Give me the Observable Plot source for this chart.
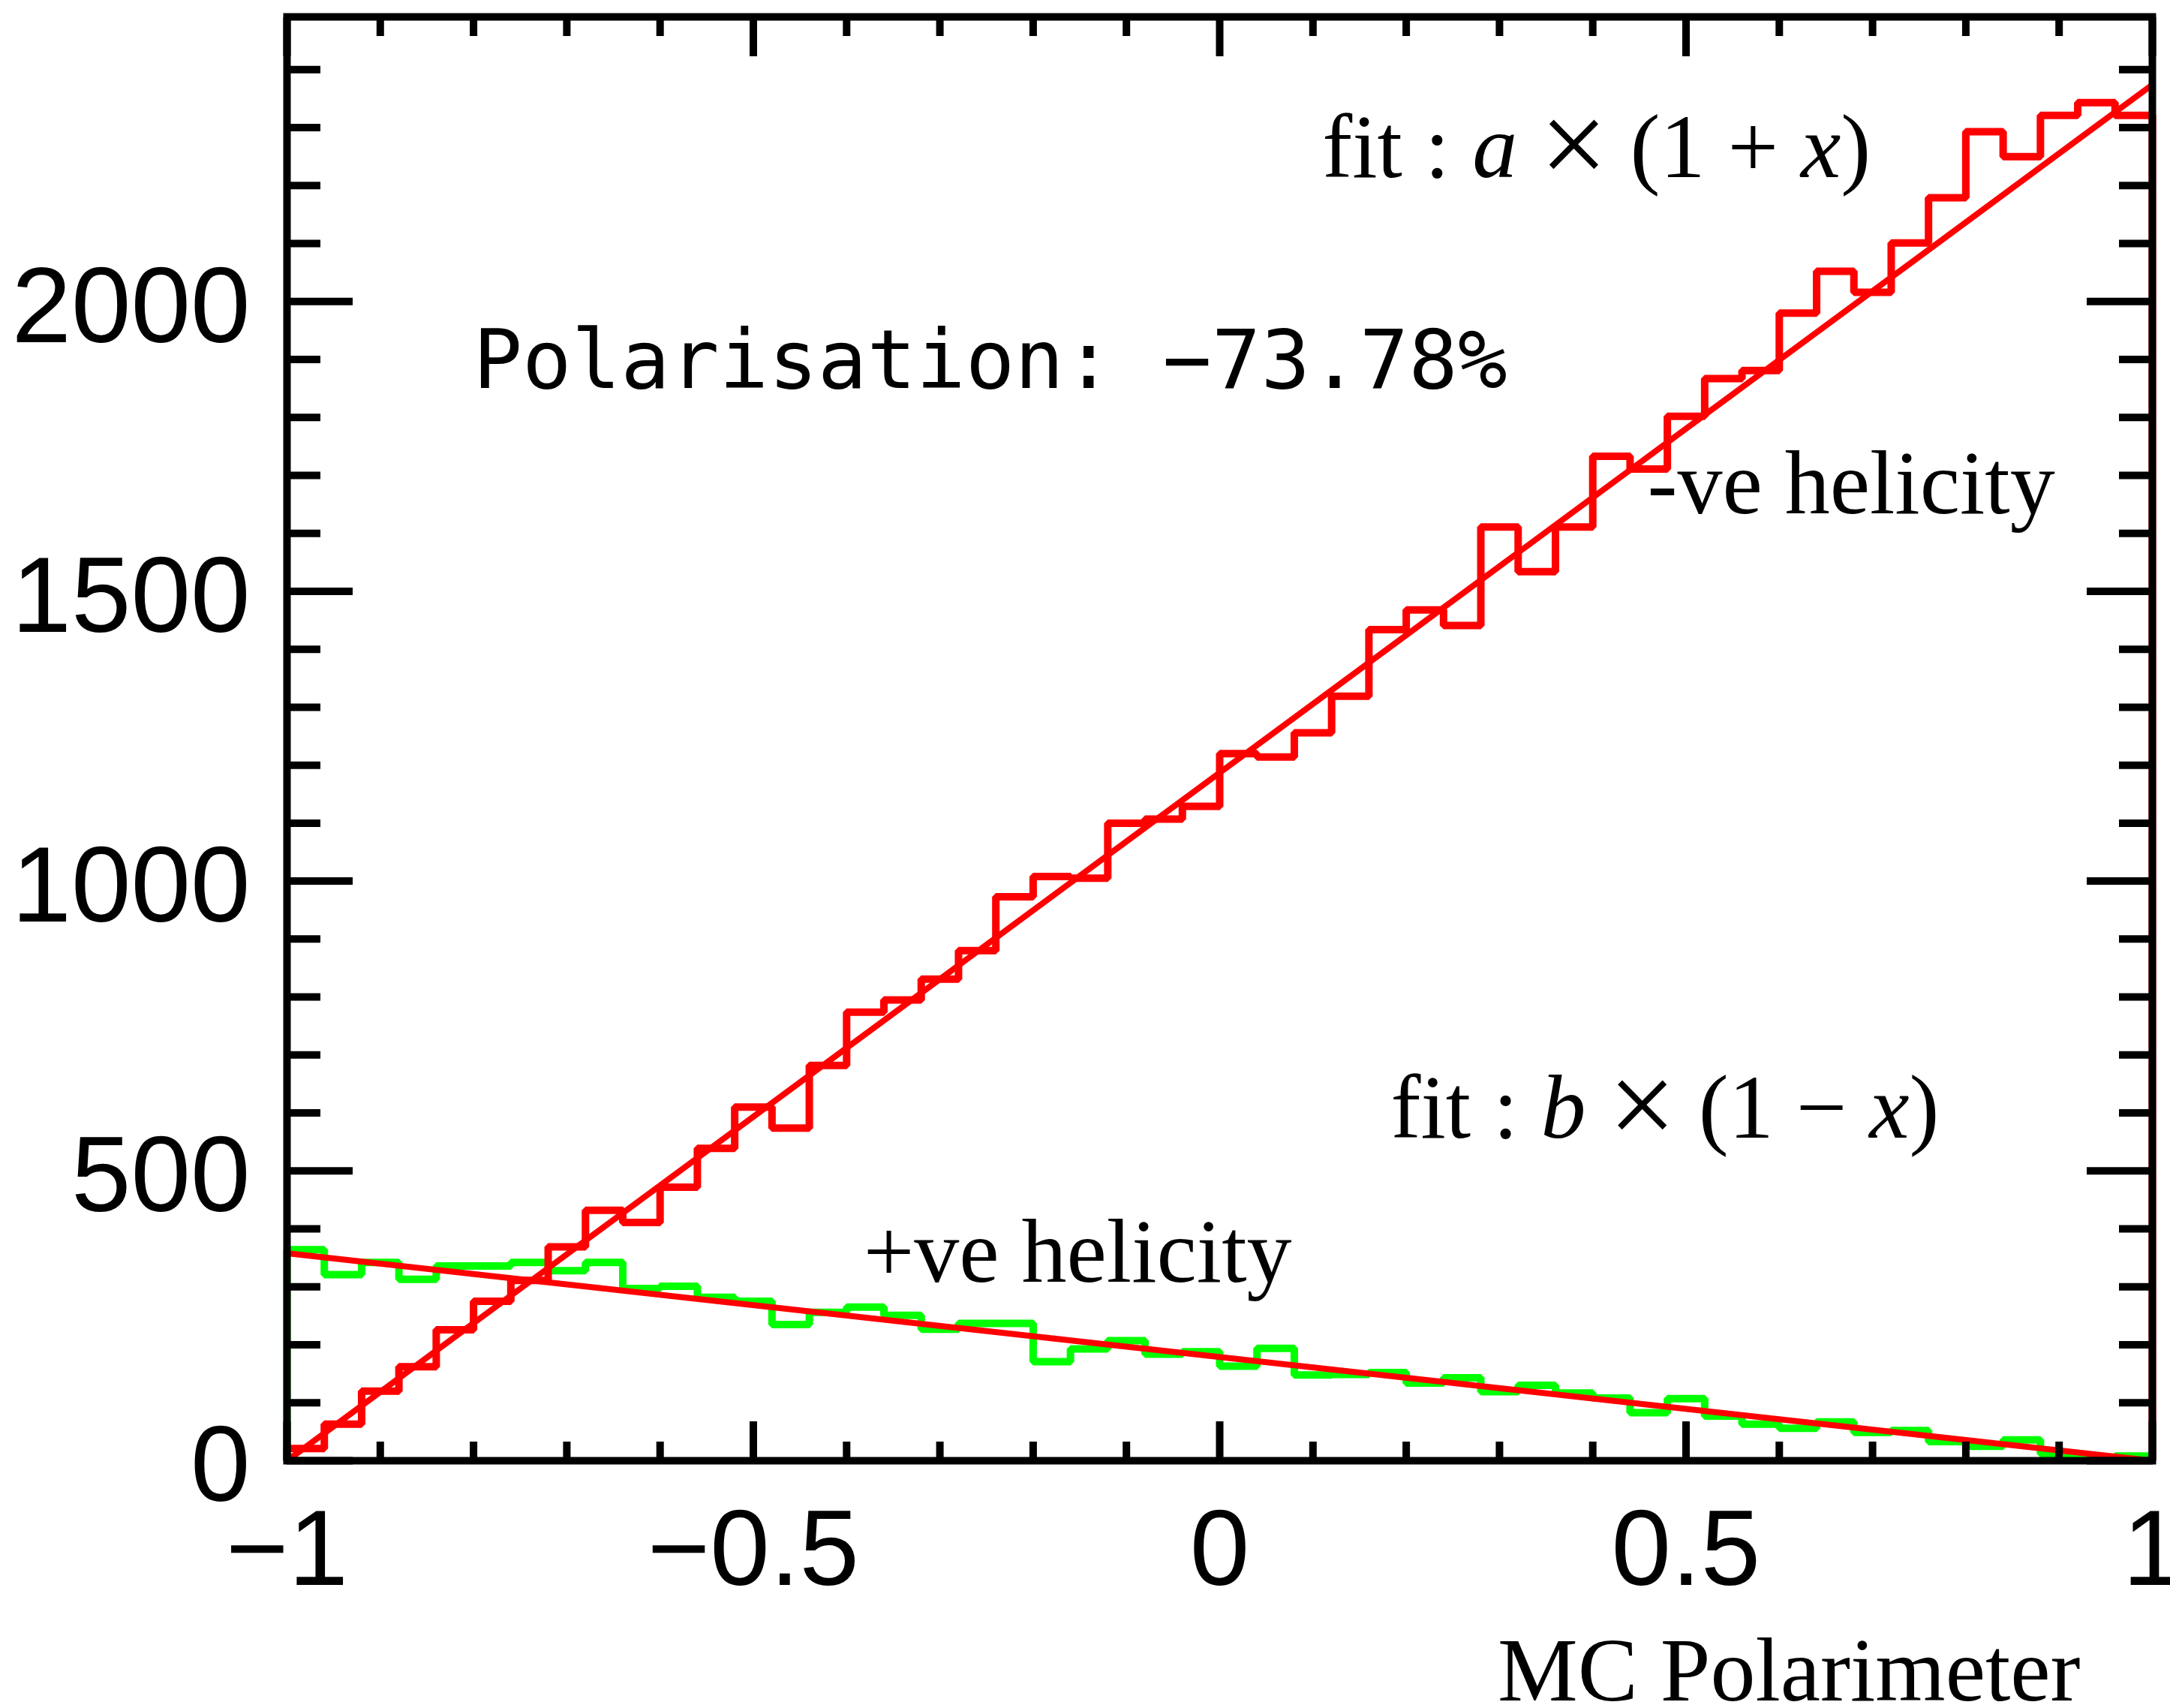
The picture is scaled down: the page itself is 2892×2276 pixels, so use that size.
<!DOCTYPE html>
<html>
<head>
<meta charset="utf-8">
<script src="https://cdn.jsdelivr.net/npm/d3@7"></script>
<script src="https://cdn.jsdelivr.net/npm/@observablehq/plot@0.6"></script>
<style>
html, body { margin: 0; padding: 0; background: #ffffff; }
#chart svg { display: block; }
</style>
</head>
<body>
<div id="chart"></div>
<script>
// ---- data ----
const xRange = [-1, 1];
const yRange = [0, 2491];

// -ve helicity histogram (red), 50 bins from -1 to 1
const negHelicity = [
  21, 63, 120, 162, 226, 275, 311, 369, 432, 411,
  472, 539, 610, 574, 682, 774, 795, 831, 880, 973,
  1008, 1005, 1100, 1107, 1129, 1220, 1214, 1256, 1319, 1434,
  1468, 1441, 1611, 1534, 1611, 1733, 1711, 1802, 1867, 1881,
  1980, 2052, 2016, 2101, 2179, 2293, 2250, 2321, 2343, 2321
];

// +ve helicity histogram (green), 50 bins from -1 to 1
const posHelicity = [
  364, 321, 342, 313, 336, 336, 342, 328, 342, 297,
  301, 282, 275, 235, 256, 265, 251, 227, 237, 237,
  171, 193, 207, 184, 188, 163, 194, 148, 149, 152,
  134, 143, 119, 130, 117, 108, 83, 107, 77, 63,
  56, 67, 49, 52, 33, 25, 36, 12, 5, 8
];

// fit parameters: a*(1+x) and b*(1-x)
const fitA = 1187;
const fitB = 179;
const fitX = [-1, 1];

const xMajorTicks = [-1, -0.5, 0, 0.5, 1];
const xTickLabels = ["\u22121", "\u22120.5", "0", "0.5", "1"];
const xMinorTicks = [-0.9, -0.8, -0.7, -0.6, -0.4, -0.3, -0.2, -0.1, 0.1, 0.2, 0.3, 0.4, 0.6, 0.7, 0.8, 0.9];

const yMajorTicks = [0, 500, 1000, 1500, 2000];
const yTickLabels = ["0", "500", "1000", "1500", "2000"];
const yMinorTicks = [100, 200, 300, 400, 600, 700, 800, 900, 1100, 1200, 1300, 1400,
                     1600, 1700, 1800, 1900, 2100, 2200, 2300, 2400];

// *...* = italic, ~...~ = enlarged symbol
const serifLabels = [
  {text: "fit : *a* ~\u00d7~ (1 + *x*)", x: 0.110, y: 2214},
  {text: "fit : *b* ~\u00d7~ (1 \u2212 *x*)", x: 0.1834, y: 558},
  {text: "-ve helicity", x: 0.4586, y: 1634},
  {text: "+ve helicity", x: -0.382, y: 309}
];
const monoLabels = [{text: "Polarisation: \u221273.78%", x: -0.8005, y: 1851}];
const axisTitle = ["MC Polarimeter"];

// ---- build ----
function outline(counts) {
  const w = (xRange[1] - xRange[0]) / counts.length;
  const pts = [{x: xRange[0], y: 0}];
  counts.forEach((c, i) => pts.push({x: xRange[0] + i * w, y: c}));
  pts.push({x: xRange[1], y: counts[counts.length - 1]});
  pts.push({x: xRange[1], y: 0});
  return pts;
}

const sans = "'Liberation Sans', Arial, Helvetica, sans-serif";
const serif = "'Liberation Serif', 'Times New Roman', serif";
const mono = "'DejaVu Sans Mono', monospace";

const tickBase = {stroke: "black", strokeWidth: 10, fill: "none", label: null};

const svg = Plot.plot({
  width: 2892,
  height: 2276,
  marginLeft: 382,
  marginRight: 24,
  marginTop: 22,
  marginBottom: 330,
  x: {domain: xRange},
  y: {domain: yRange},
  style: {background: "white", overflow: "hidden"},
  marks: [
    Plot.line(outline(posHelicity), {x: "x", y: "y", curve: "step-after", stroke: "#00ff00", strokeWidth: 10, strokeLinejoin: "miter", strokeLinecap: "butt"}),
    Plot.line(outline(negHelicity), {x: "x", y: "y", curve: "step-after", stroke: "#ff0000", strokeWidth: 10, strokeLinejoin: "miter", strokeLinecap: "butt"}),
    Plot.line(fitX, {x: d => d, y: d => fitA * (1 + d), stroke: "#ff0000", strokeWidth: 8}),
    Plot.line(fitX, {x: d => d, y: d => fitB * (1 - d), stroke: "#ff0000", strokeWidth: 8}),
    Plot.frame({stroke: "black", strokeWidth: 10}),
    // inward ticks on all four sides
    Plot.axisX(xMajorTicks, {anchor: "bottom", tickSize: -52, ...tickBase}),
    Plot.axisX(xMinorTicks, {anchor: "bottom", tickSize: -25, ...tickBase}),
    Plot.axisX(xMajorTicks, {anchor: "top", tickSize: -52, ...tickBase}),
    Plot.axisX(xMinorTicks, {anchor: "top", tickSize: -25, ...tickBase}),
    Plot.axisY(yMajorTicks, {anchor: "left", tickSize: -88, ...tickBase}),
    Plot.axisY(yMinorTicks, {anchor: "left", tickSize: -45, ...tickBase}),
    Plot.axisY(yMajorTicks, {anchor: "right", tickSize: -88, ...tickBase}),
    Plot.axisY(yMinorTicks, {anchor: "right", tickSize: -45, ...tickBase}),
    // tick labels
    Plot.axisX(xMajorTicks, {anchor: "bottom", tickSize: 0, tickPadding: 64, label: null,
      tickFormat: d => xTickLabels[xMajorTicks.indexOf(d)], fontSize: 143, fontFamily: sans, fill: "black"}),
    Plot.axisY(yMajorTicks, {anchor: "left", tickSize: 0, tickPadding: 49, label: null, dy: 8,
      tickFormat: d => yTickLabels[yMajorTicks.indexOf(d)], fontSize: 143, fontFamily: sans, fill: "black"}),
    // annotations
    Plot.text(serifLabels, {x: "x", y: "y", text: "text", textAnchor: "start", lineAnchor: "bottom",
      fontFamily: serif, fontSize: 120, fill: "black"}),
    Plot.text(monoLabels, {x: "x", y: "y", text: "text", textAnchor: "start", lineAnchor: "bottom",
      fontFamily: mono, fontSize: 109, fill: "black"}),
    Plot.text(axisTitle, {text: d => d, frameAnchor: "bottom-right", dx: -96, dy: 319,
      textAnchor: "end", lineAnchor: "bottom", fontFamily: serif, fontSize: 120, fill: "black"})
  ]
});

// italic (*...*) and enlarged (~...~) parts as tspans
d3.select(svg).selectAll("text").each(function () {
  const t = this.textContent;
  if (!/[*~]/.test(t)) return;
  const parts = t.split(/(\*[^*]+\*|~[^~]+~)/);
  const sel = d3.select(this);
  sel.text(null);
  let pendingShift = 0;
  parts.forEach(p => {
    if (!p) return;
    let ts;
    if (p[0] === "*") {
      ts = sel.append("tspan").attr("font-style", "italic").text(p.slice(1, -1));
    } else if (p[0] === "~") {
      ts = sel.append("tspan").attr("font-size", 160).text(p.slice(1, -1));
      ts.attr("dy", 10 - pendingShift);
      pendingShift = 10;
      return;
    } else {
      ts = sel.append("tspan").text(p);
    }
    if (pendingShift) { ts.attr("dy", -pendingShift); pendingShift = 0; }
  });
});

document.getElementById("chart").appendChild(svg);
</script>
</body>
</html>
